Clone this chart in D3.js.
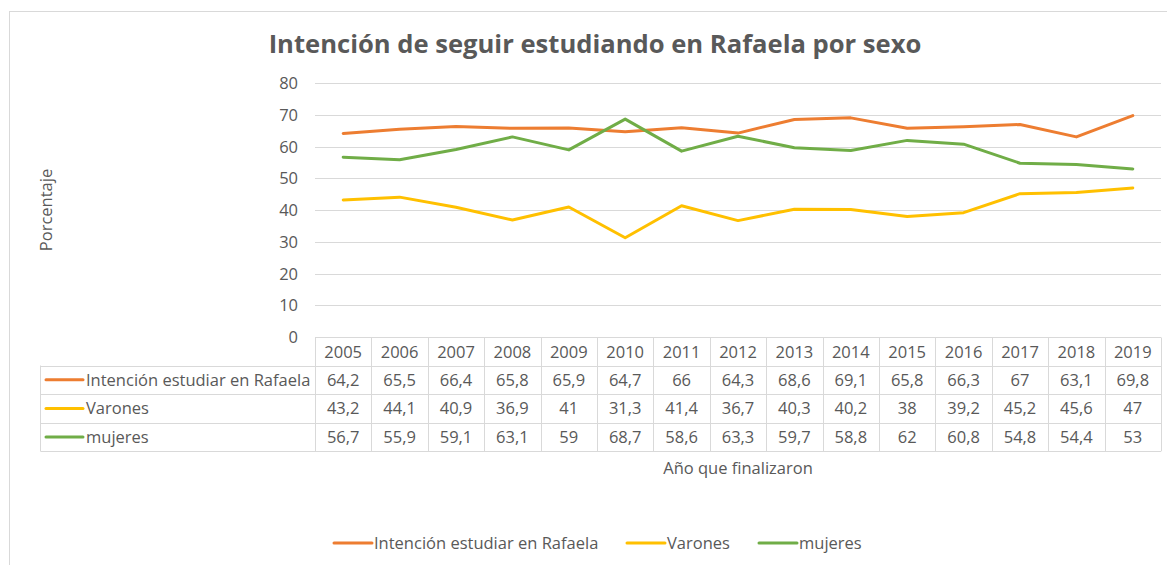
<!DOCTYPE html>
<html lang="es">
<head>
<meta charset="UTF-8">
<title>Intención de seguir estudiando en Rafaela por sexo</title>
<script src="https://d3js.org/d3.v7.min.js"></script>
<style>
  body, html { margin: 0; padding: 0; background: #fff; }
  svg { display: block; font-family: "Open Sans", "Noto Sans", sans-serif; }
</style>
</head>
<body>
<div id="chart"></div>
<script>
// Data
var years = ["2005","2006","2007","2008","2009","2010","2011","2012","2013","2014","2015","2016","2017","2018","2019"];
var intencion = [64.2, 65.5, 66.4, 65.8, 65.9, 64.7, 66, 64.3, 68.6, 69.1, 65.8, 66.3, 67, 63.1, 69.8];
var varones   = [43.2, 44.1, 40.9, 36.9, 41, 31.3, 41.4, 36.7, 40.3, 40.2, 38, 39.2, 45.2, 45.6, 47];
var mujeres   = [56.7, 55.9, 59.1, 63.1, 59, 68.7, 58.6, 63.3, 59.7, 58.8, 62, 60.8, 54.8, 54.4, 53];
var seriesNames = ["Intención estudiar en Rafaela", "Varones", "mujeres"];
var yTicks = [0, 10, 20, 30, 40, 50, 60, 70, 80];

var series = [
  {name: seriesNames[0], values: intencion, color: "#ED7D31"},
  {name: seriesNames[1], values: varones,   color: "#FFC000"},
  {name: seriesNames[2], values: mujeres,   color: "#70AD47"}
];

var W = 1167, H = 565;
var textColor = "#595959", gridColor = "#d9d9d9";
var fs = 16.5;

var svg = d3.select("#chart").append("svg")
    .attr("width", W)
    .attr("height", H);

// chart area border (runs off the right and bottom edges)
svg.append("rect")
    .attr("x", 9.5).attr("y", 11.5)
    .attr("width", W).attr("height", H)
    .attr("fill", "none")
    .attr("stroke", gridColor);

var plotLeft = 315, plotRight = 1161, plotTop = 83.3, plotBottom = 337;

var x = d3.scaleBand().domain(years).range([plotLeft, plotRight]);
var y = d3.scaleLinear().domain([0, 80]).range([plotBottom, plotTop]);

// title
svg.append("text")
    .attr("x", 595).attr("y", 53)
    .attr("text-anchor", "middle")
    .attr("font-size", 25.6)
    .attr("font-weight", "bold")
    .attr("fill", textColor)
    .text("Intención de seguir estudiando en Rafaela por sexo");

// gridlines
svg.append("g").selectAll("line")
  .data(yTicks.filter(function(d) { return d > 0; }))
  .join("line")
    .attr("x1", plotLeft).attr("x2", plotRight)
    .attr("y1", function(d) { return Math.round(y(d)) + 0.5; })
    .attr("y2", function(d) { return Math.round(y(d)) + 0.5; })
    .attr("stroke", gridColor)
    .attr("stroke-width", 1);

// y axis labels
svg.append("g").selectAll("text")
  .data(yTicks)
  .join("text")
    .attr("x", 298)
    .attr("y", function(d) { return y(d) + 6; })
    .attr("text-anchor", "end")
    .attr("font-size", fs)
    .attr("fill", textColor)
    .text(function(d) { return d; });

// y axis title
svg.append("text")
    .attr("transform", "translate(52,210) rotate(-90)")
    .attr("text-anchor", "middle")
    .attr("font-size", fs)
    .attr("fill", textColor)
    .text("Porcentaje");

// lines
var line = d3.line()
    .x(function(d, i) { return x(years[i]) + x.bandwidth() / 2; })
    .y(function(d) { return y(d); });

series.forEach(function(s) {
  svg.append("path")
      .datum(s.values)
      .attr("fill", "none")
      .attr("stroke", s.color)
      .attr("stroke-width", 3)
      .attr("stroke-linecap", "round")
      .attr("stroke-linejoin", "round")
      .attr("d", line);
});

// data table
var rowTop = 337.5, headerH = 28, rowH = 28.6, labelLeft = 40.5;
var tableBottom = rowTop + headerH + rowH * 3;
var t = svg.append("g");

// horizontal borders
t.append("line").attr("x1", plotLeft).attr("x2", plotRight)
    .attr("y1", rowTop).attr("y2", rowTop).attr("stroke", gridColor);
[0, 1, 2, 3].forEach(function(i) {
  var yy = Math.round(rowTop + headerH + rowH * i) + 0.5;
  t.append("line").attr("x1", labelLeft).attr("x2", plotRight)
      .attr("y1", yy).attr("y2", yy).attr("stroke", gridColor);
});
// vertical borders
t.append("line").attr("x1", labelLeft).attr("x2", labelLeft)
    .attr("y1", rowTop + headerH).attr("y2", tableBottom).attr("stroke", gridColor);
years.forEach(function(yr) {
  var xx = Math.round(x(yr)) + 0.5;
  t.append("line").attr("x1", xx).attr("x2", xx)
      .attr("y1", rowTop).attr("y2", tableBottom).attr("stroke", gridColor);
});
t.append("line").attr("x1", plotRight + 0.5).attr("x2", plotRight + 0.5)
    .attr("y1", rowTop).attr("y2", tableBottom).attr("stroke", gridColor);

// header years
t.selectAll("text.yr")
  .data(years)
  .join("text")
    .attr("class", "yr")
    .attr("x", function(d) { return x(d) + x.bandwidth() / 2; })
    .attr("y", rowTop + headerH / 2 + 6)
    .attr("text-anchor", "middle")
    .attr("font-size", fs)
    .attr("fill", textColor)
    .text(function(d) { return d; });

// rows
series.forEach(function(s, r) {
  var cy = rowTop + headerH + rowH * r + rowH / 2;
  t.append("line")
      .attr("x1", 46).attr("x2", 83)
      .attr("y1", cy).attr("y2", cy)
      .attr("stroke", s.color)
      .attr("stroke-width", 3)
      .attr("stroke-linecap", "round");
  t.append("text")
      .attr("x", 86).attr("y", cy + 6)
      .attr("font-size", fs)
      .attr("fill", textColor)
      .text(s.name);
  t.selectAll("text.v" + r)
    .data(s.values)
    .join("text")
      .attr("class", "v" + r)
      .attr("x", function(d, i) { return x(years[i]) + x.bandwidth() / 2; })
      .attr("y", cy + 6)
      .attr("text-anchor", "middle")
      .attr("font-size", fs)
      .attr("fill", textColor)
      .text(function(d) { return String(d).replace(".", ","); });
});

// x axis title
svg.append("text")
    .attr("x", 738).attr("y", 474)
    .attr("text-anchor", "middle")
    .attr("font-size", fs)
    .attr("fill", textColor)
    .text("Año que finalizaron");

// bottom legend
var legendX = [334, 627, 759];
series.forEach(function(s, i) {
  var g = svg.append("g").attr("transform", "translate(" + legendX[i] + ",543)");
  g.append("line")
      .attr("x1", 0).attr("x2", 38)
      .attr("stroke", s.color)
      .attr("stroke-width", 3)
      .attr("stroke-linecap", "round");
  g.append("text")
      .attr("x", 40).attr("y", 6)
      .attr("font-size", fs)
      .attr("fill", textColor)
      .text(s.name);
});
</script>
</body>
</html>
